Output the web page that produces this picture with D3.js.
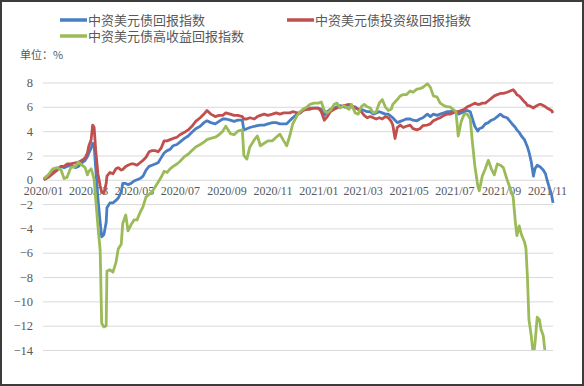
<!DOCTYPE html>
<html lang="zh">
<head>
<meta charset="UTF-8">
<title>中资美元债回报指数</title>
<script src="https://d3js.org/d3.v7.min.js"></script>
<style>
  body { margin: 0; background: #fff; }
</style>
</head>
<body>
<div id="chart"></div>
<script>
// chart size
const width = 584;
const height = 386;
const plot = { left: 43, right: 553, top: 82.5, bottom: 350 };

// series names
const seriesNames = ["中资美元债回报指数", "中资美元债投资级回报指数", "中资美元债高收益回报指数"];

// dates
const dates = [
  "2020-01-02","2020-01-08","2020-01-14","2020-01-20","2020-01-25","2020-01-29","2020-02-02","2020-02-07","2020-02-13","2020-02-17",
  "2020-02-22","2020-02-26","2020-02-29","2020-03-02","2020-03-05","2020-03-07","2020-03-09","2020-03-11","2020-03-14","2020-03-17",
  "2020-03-19","2020-03-22","2020-03-25","2020-03-26","2020-03-30","2020-04-03","2020-04-07","2020-04-10","2020-04-14","2020-04-16",
  "2020-04-20","2020-04-23","2020-04-27","2020-05-01","2020-05-05","2020-05-09","2020-05-13","2020-05-17","2020-05-21","2020-05-25",
  "2020-05-29","2020-06-02","2020-06-06","2020-06-10","2020-06-14","2020-06-18","2020-06-22","2020-06-27","2020-07-01","2020-07-07",
  "2020-07-12","2020-07-17","2020-07-22","2020-07-28","2020-08-02","2020-08-06","2020-08-11","2020-08-17","2020-08-22","2020-08-27",
  "2020-08-31","2020-09-06","2020-09-11","2020-09-16","2020-09-22","2020-09-24","2020-09-28","2020-10-02","2020-10-08","2020-10-12",
  "2020-10-16","2020-10-21","2020-10-26","2020-11-01","2020-11-06","2020-11-11","2020-11-16","2020-11-20","2020-11-24","2020-11-28",
  "2020-12-04","2020-12-08","2020-12-12","2020-12-17","2020-12-21","2020-12-26","2021-01-01","2021-01-05","2021-01-09","2021-01-13",
  "2021-01-17","2021-01-22","2021-01-26","2021-01-30","2021-02-04","2021-02-11","2021-02-14","2021-02-19","2021-02-23","2021-02-27",
  "2021-03-03","2021-03-07","2021-03-11","2021-03-15","2021-03-19","2021-03-23","2021-03-27","2021-03-31","2021-04-04","2021-04-08",
  "2021-04-10","2021-04-13","2021-04-16","2021-04-20","2021-04-24","2021-04-28","2021-05-03","2021-05-07","2021-05-12","2021-05-16",
  "2021-05-20","2021-05-26","2021-05-30","2021-06-03","2021-06-08","2021-06-12","2021-06-17","2021-06-21","2021-06-25","2021-06-29",
  "2021-07-03","2021-07-06","2021-07-10","2021-07-14","2021-07-18","2021-07-22","2021-07-25","2021-07-28","2021-08-01","2021-08-03",
  "2021-08-07","2021-08-11","2021-08-15","2021-08-19","2021-08-23","2021-08-27","2021-08-31","2021-09-04","2021-09-09","2021-09-13",
  "2021-09-17","2021-09-20","2021-09-22","2021-09-25","2021-09-28","2021-10-02","2021-10-04","2021-10-06","2021-10-08","2021-10-11",
  "2021-10-14","2021-10-16","2021-10-19","2021-10-22","2021-10-24","2021-10-27","2021-10-30","2021-11-01","2021-11-04","2021-11-07",
  "2021-11-09"
];

// 中资美元债回报指数 (%)
const allIndex = [
  0.0,0.3,0.6,0.9,1.1,1.0,1.1,1.2,1.0,1.1,
  1.4,1.6,1.9,2.2,2.6,3.0,2.8,1.0,-1.5,-3.5,
  -4.7,-4.5,-3.5,-2.3,-1.9,-1.9,-1.7,-1.5,-1.0,-0.3,
  -0.3,-0.4,-0.3,-0.1,0.0,0.1,0.3,0.8,1.1,1.2,
  1.3,1.4,1.8,2.2,2.4,2.5,2.8,2.9,3.1,3.4,
  3.6,3.9,4.2,4.4,4.7,4.85,4.7,4.6,4.8,5.0,
  5.0,4.9,4.8,4.9,4.9,4.1,4.2,4.3,4.4,4.45,
  4.5,4.5,4.6,4.7,4.7,4.6,4.6,4.6,4.85,5.1,
  5.4,5.5,5.8,5.8,5.9,5.9,5.9,5.8,5.3,5.6,
  5.8,5.9,6.0,6.1,6.0,5.9,6.0,6.0,5.8,5.8,
  5.7,5.6,5.6,5.4,5.5,5.6,5.5,5.4,5.4,5.2,
  5.1,4.9,4.7,4.8,4.9,5.0,5.0,4.9,4.85,5.0,
  5.1,5.4,5.2,5.4,5.3,5.4,5.5,5.6,5.6,5.7,
  5.6,5.4,5.5,5.6,5.7,5.6,5.0,4.4,4.0,4.2,
  4.3,4.6,4.7,4.9,5.0,5.2,5.4,5.2,5.1,4.8,
  4.5,4.3,4.1,3.9,3.6,3.3,3.0,2.7,2.3,1.5,
  0.3,0.9,1.2,1.1,1.0,0.8,0.5,0.0,-0.6,-1.2,
  -1.9
];

// 中资美元债投资级回报指数 (%)
const igIndex = [
  0.0,0.2,0.5,0.8,1.1,1.1,1.3,1.3,1.4,1.45,
  1.6,1.8,2.2,2.8,3.3,4.5,4.3,2.5,0.5,-0.5,
  -1.0,-1.1,-0.3,0.3,0.6,0.5,0.9,1.0,0.8,0.85,
  1.1,1.2,1.3,1.3,1.2,1.4,1.6,1.85,2.3,2.4,
  2.4,2.3,2.6,3.2,3.2,3.3,3.4,3.5,3.7,3.9,
  4.1,4.4,4.8,5.1,5.4,5.7,5.4,5.2,5.3,5.3,
  5.5,5.4,5.3,5.3,5.2,5.0,5.0,5.1,5.0,5.2,
  5.3,5.4,5.3,5.4,5.5,5.4,5.5,5.5,5.5,5.6,
  5.5,5.5,5.7,5.8,5.8,5.9,5.9,5.6,4.9,5.2,
  5.6,5.8,5.9,6.0,6.1,6.2,6.1,5.9,5.8,5.6,
  5.3,5.1,5.2,5.1,5.0,5.1,5.0,5.2,5.1,4.8,
  4.5,3.4,4.3,4.5,4.3,4.4,4.5,4.2,4.1,4.2,
  4.45,4.5,4.6,4.85,5.0,5.1,5.3,5.4,5.4,5.5,
  5.6,5.6,5.7,5.8,6.0,6.1,6.2,6.3,6.2,6.2,
  6.3,6.3,6.5,6.7,6.9,7.0,7.1,7.1,7.2,7.3,
  7.4,7.2,7.0,6.9,6.7,6.4,6.3,6.1,6.1,6.0,
  5.9,6.0,6.1,6.2,6.2,6.1,6.0,5.9,5.8,5.7,
  5.5
];

// 中资美元债高收益回报指数 (%), null = no more data
const hyIndex = [
  0.1,0.4,0.9,1.0,0.8,0.1,0.2,1.0,1.1,1.45,
  1.2,1.0,0.4,0.7,0.9,0.5,0.0,-1.5,-3.8,-5.8,
  -11.8,-12.1,-12.0,-7.5,-7.4,-7.6,-6.8,-5.7,-5.3,-3.6,
  -2.9,-4.2,-3.7,-3.3,-3.3,-2.7,-2.2,-1.4,-1.2,-1.0,
  -0.6,-0.2,0.2,0.7,0.6,0.9,1.1,1.3,1.5,1.9,
  2.1,2.4,2.7,2.9,3.1,3.3,3.4,3.5,3.7,4.0,
  4.4,3.8,3.7,4.0,4.1,2.0,1.7,2.7,3.3,3.6,
  2.8,3.0,3.2,3.2,3.5,3.75,3.2,2.8,3.6,4.6,
  5.3,5.6,5.8,6.0,6.2,6.3,6.3,6.4,5.7,5.5,
  5.7,6.2,6.3,5.9,6.1,5.8,6.2,5.5,5.4,6.0,
  6.2,6.0,5.9,5.5,5.6,6.3,6.6,6.0,5.7,5.8,
  6.2,6.4,6.6,6.9,7.0,7.0,7.3,7.2,7.45,7.5,
  7.6,7.9,7.6,6.9,6.8,6.3,6.1,6.0,6.0,5.8,
  5.6,3.6,4.8,5.4,5.4,5.0,3.0,1.2,-0.5,-0.9,
  0.3,0.9,1.6,0.9,0.4,1.3,1.2,1.0,0.0,-0.7,
  -1.4,-3.5,-4.6,-3.8,-4.5,-5.1,-5.6,-8.0,-11.5,-12.8,
  -14.5,-13.5,-11.3,-11.5,-12.3,-12.8,-14.5,null,null,null,
  null
];

// axis ticks
const yTicks = [8, 6, 4, 2, 0, -2, -4, -6, -8, -10, -12, -14];
const xTickDates = ["2020-01-01","2020-03-01","2020-05-01","2020-07-01","2020-09-01","2020-11-01",
                    "2021-01-01","2021-03-01","2021-05-01","2021-07-01","2021-09-01","2021-11-01"];
const xTickLabels = ["2020/01","2020/03","2020/05","2020/07","2020/09","2020/11",
                     "2021/01","2021/03","2021/05","2021/07","2021/09","2021/11"];

const colors = ["#4A7EC2", "#C0504D", "#9BBB59"];

const parse = d3.timeParse("%Y-%m-%d");
const xDates = dates.map(parse);
const tickDates = xTickDates.map(parse);

const svg = d3.select("#chart").append("svg")
    .attr("width", width)
    .attr("height", height);

svg.append("rect")
    .attr("x", 1).attr("y", 1)
    .attr("width", width - 2).attr("height", height - 2)
    .attr("fill", "#fff")
    .attr("stroke", "#3c3c3c")
    .attr("stroke-width", 2);

// scales
const x = d3.scaleTime()
    .domain([parse("2020-01-01"), parse("2021-11-09")])
    .range([plot.left, plot.right]);

const y = d3.scaleLinear()
    .domain([-14, 8])
    .range([plot.bottom, plot.top]);

// y axis with gridlines
const yAxis = svg.append("g")
    .attr("transform", `translate(${plot.left},0)`)
    .call(d3.axisLeft(y).tickValues(yTicks).tickSize(-(plot.right - plot.left)).tickPadding(10));
yAxis.select(".domain").remove();
yAxis.selectAll(".tick line").attr("stroke", "#d9d9d9").attr("stroke-width", 1);
yAxis.selectAll(".tick text")
    .attr("fill", "#595959")
    .style("font-family", "'Liberation Serif', 'Times New Roman', serif")
    .style("font-size", "12.5px");

// x axis sits on the zero line
const xAxis = svg.append("g")
    .attr("transform", `translate(0,${y(0)})`)
    .call(d3.axisBottom(x).tickValues(tickDates).tickSize(0).tickPadding(7)
        .tickFormat((d, i) => xTickLabels[i]));
xAxis.select(".domain").remove();
xAxis.selectAll(".tick text")
    .attr("fill", "#595959")
    .style("font-family", "'Liberation Serif', 'Times New Roman', serif")
    .style("font-size", "12px");

// unit label
svg.append("text")
    .attr("x", 20).attr("y", 59)
    .attr("fill", "#595959")
    .style("font-family", "'Noto Sans CJK SC', sans-serif")
    .style("font-size", "11px")
    .text("单位：%");

// clip lines at the bottom of the axis
svg.append("clipPath").attr("id", "plot-clip")
  .append("rect")
    .attr("x", plot.left - 5).attr("y", 60)
    .attr("width", plot.right - plot.left + 10)
    .attr("height", plot.bottom - 60);

const line = d3.line()
    .defined(d => d.v !== null)
    .x(d => x(d.date))
    .y(d => y(d.v));

const allSeries = [allIndex, igIndex, hyIndex];
allSeries.forEach((vals, i) => {
  const pts = vals.map((v, j) => ({ date: xDates[j], v: v }));
  svg.append("path")
      .datum(pts)
      .attr("clip-path", "url(#plot-clip)")
      .attr("fill", "none")
      .attr("stroke", colors[i])
      .attr("stroke-width", 2.8)
      .attr("stroke-linejoin", "round")
      .attr("d", line);
});

// legend
const legendPos = [{ x: 60, y: 20 }, { x: 287, y: 20 }, { x: 60, y: 36 }];
const legend = svg.append("g")
  .selectAll("g")
  .data(seriesNames)
  .join("g")
    .attr("transform", (d, i) => `translate(${legendPos[i].x},${legendPos[i].y})`);

legend.append("line")
    .attr("x1", 0).attr("x2", 27)
    .attr("stroke", (d, i) => colors[i])
    .attr("stroke-width", 3.5);

legend.append("text")
    .attr("x", 28)
    .attr("dy", "0.35em")
    .attr("fill", "#595959")
    .style("font-family", "'Noto Sans CJK SC', sans-serif")
    .style("font-size", "13px")
    .text(d => d);
</script>
</body>
</html>
